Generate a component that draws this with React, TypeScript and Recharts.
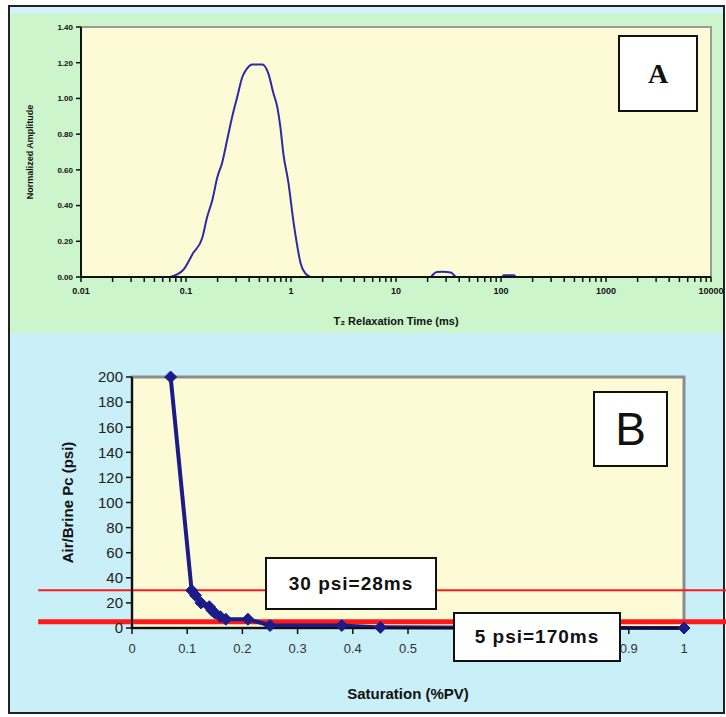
import React from "react";
import {
  LineChart,
  Line,
  XAxis,
  YAxis,
  ReferenceArea,
  ReferenceLine,
} from "recharts";

// Panel A: T2 distribution
const t2Ms = [
  0.0706, 0.094, 0.117, 0.143, 0.159, 0.178, 0.199, 0.221, 0.247, 0.276, 0.308, 0.344, 0.384, 0.428,
  0.533, 0.608, 0.679, 0.741, 0.792, 0.846, 0.944, 1.05, 1.15, 1.23, 1.37, 1.53,
  5,
  21.5, 24.5, 27.9, 33.2, 37,
  60,
  103, 106, 133, 138,
];
const amplitude: (number | null)[] = [
  0, 0.039, 0.134, 0.22, 0.336, 0.43, 0.56, 0.64, 0.77, 0.9, 1.01, 1.12, 1.17, 1.19,
  1.19, 1.14, 1.03, 0.95, 0.84, 0.69, 0.53, 0.32, 0.17, 0.08, 0.02, 0,
  null,
  0, 0.028, 0.03, 0.025, 0,
  null,
  0, 0.01, 0.01, 0,
];
const t2MajorTicks = [0.01, 0.1, 1, 10, 100, 1000, 10000];
const ampTicks = [0, 0.2, 0.4, 0.6, 0.8, 1.0, 1.2, 1.4];

// Panel B: capillary pressure curve
const saturation = [0.07, 0.108, 0.115, 0.125, 0.14, 0.145, 0.15, 0.16, 0.17, 0.21, 0.25, 0.38, 0.45, 1.0];
const pcPsi = [200, 30, 26, 20, 17, 14, 12, 9, 7, 7, 2, 2, 0.5, 0];
const satTicks = [0, 0.1, 0.2, 0.3, 0.4, 0.5, 0.6, 0.7, 0.8, 0.9, 1];
const pcTicks = [0, 20, 40, 60, 80, 100, 120, 140, 160, 180, 200];
const cutoffs = [
  { psi: 30, label: "30 psi=28ms", width: 2 },
  { psi: 5, label: "5 psi=170ms", width: 5 },
];

const t2Data = t2Ms.map((t, i) => ({ t, amp: amplitude[i] }));
const pcData = saturation.map((s, i) => ({ s, pc: pcPsi[i] }));

const t2AllTicks = t2MajorTicks.flatMap((m, i) =>
  i === t2MajorTicks.length - 1 ? [m] : [1, 2, 3, 4, 5, 6, 7, 8, 9].map((k) => m * k)
);

const font = "'Liberation Sans', Arial, sans-serif";

const Diamond = (props: any) => {
  const { cx, cy, index } = props;
  if (cx == null || cy == null) return <g key={index} />;
  const r = 6;
  return (
    <path
      key={index}
      d={`M${cx},${cy - r} L${cx + r},${cy} L${cx},${cy + r} L${cx - r},${cy} Z`}
      fill="#1b1b8a"
      stroke="#1b1b8a"
    />
  );
};

const boxStyle: React.CSSProperties = {
  position: "absolute",
  border: "2px solid #111",
  background: "#fff",
  boxSizing: "border-box",
  display: "flex",
  alignItems: "center",
  justifyContent: "center",
  color: "#111",
};

export default function App() {
  return (
    <div style={{ position: "absolute", left: 0, top: 0, width: 726, height: 717, background: "#fff", fontFamily: font }}>
      <div style={{ position: "absolute", left: 8, top: 5, width: 717, height: 709, border: "2px solid #222", boxSizing: "border-box", background: "#cff3f6" }} />
      <div style={{ position: "absolute", left: 10, top: 14, width: 713, height: 319, background: "#ccf5cc" }} />
      <div style={{ position: "absolute", left: 10, top: 333, width: 713, height: 379, background: "#c9eff8" }} />

      <div style={{ position: "absolute", left: 0, top: 0 }}>
        <LineChart width={726} height={333} data={t2Data} margin={{ top: 27, right: 15, left: 21, bottom: 0 }}>
          <ReferenceArea x1={0.01} x2={10000} y1={0} y2={1.4} fill="#fdfbd6" fillOpacity={1} stroke="#9a9a9a" strokeWidth={2} ifOverflow="visible" />
          <XAxis
            dataKey="t"
            type="number"
            scale="log"
            domain={[0.01, 10000]}
            ticks={t2AllTicks}
            allowDataOverflow
            interval={0}
            tickFormatter={(v: number) => (t2MajorTicks.includes(v) ? String(v) : "")}
            tickSize={5}
            tickMargin={6}
            height={56}
            axisLine={{ stroke: "#111", strokeWidth: 2 }}
            tickLine={{ stroke: "#111", strokeWidth: 1.5 }}
            tick={{ fill: "#111", fontSize: 9, fontWeight: "bold", fontFamily: font }}
            label={{ value: "T₂ Relaxation Time (ms)", position: "insideBottom", offset: 8, fill: "#111", fontSize: 11, fontWeight: "bold", fontFamily: font }}
          />
          <YAxis
            type="number"
            domain={[0, 1.4]}
            ticks={ampTicks}
            interval={0}
            tickFormatter={(v: number) => v.toFixed(2)}
            tickSize={5}
            tickMargin={3}
            width={60}
            axisLine={{ stroke: "#111", strokeWidth: 2 }}
            tickLine={{ stroke: "#111", strokeWidth: 1.5 }}
            tick={{ fill: "#111", fontSize: 8, fontWeight: "bold", fontFamily: font }}
            label={{ value: "Normalized Amplitude", angle: -90, position: "insideLeft", offset: 9, style: { textAnchor: "middle" }, fill: "#111", fontSize: 9, fontWeight: "bold", fontFamily: font }}
          />
          <Line dataKey="amp" type="monotone" stroke="#2b2ba3" strokeWidth={2} dot={false} connectNulls={false} isAnimationActive={false} />
        </LineChart>
      </div>

      <div style={{ position: "absolute", left: 0, top: 333 }}>
        <LineChart width={726} height={384} data={pcData} margin={{ top: 44, right: 42, left: 32, bottom: 0 }}>
          <ReferenceArea x1={0} x2={1} y1={0} y2={200} fill="#fdfbd6" fillOpacity={1} stroke="#8c8c8c" strokeWidth={3} ifOverflow="visible" />
          {cutoffs.map((c) => (
            <ReferenceLine
              key={c.psi}
              segment={[{ x: -0.17, y: c.psi }, { x: 1.08, y: c.psi }]}
              stroke="#ff1a1a"
              strokeWidth={c.width}
              ifOverflow="visible"
            />
          ))}
          <XAxis
            dataKey="s"
            type="number"
            domain={[0, 1]}
            ticks={satTicks}
            interval={0}
            tickFormatter={(v: number) => String(v)}
            tickSize={6}
            tickMargin={10}
            height={89}
            axisLine={{ stroke: "#111", strokeWidth: 2 }}
            tickLine={{ stroke: "#111", strokeWidth: 1.5 }}
            tick={{ fill: "#333", fontSize: 13, fontFamily: font }}
            label={{ value: "Saturation (%PV)", position: "insideBottom", offset: 18, fill: "#111", fontSize: 15, fontWeight: "bold", fontFamily: font }}
          />
          <YAxis
            type="number"
            domain={[0, 200]}
            ticks={pcTicks}
            interval={0}
            tickSize={6}
            tickMargin={3}
            width={100}
            axisLine={{ stroke: "#111", strokeWidth: 2 }}
            tickLine={{ stroke: "#111", strokeWidth: 1.5 }}
            tick={{ fill: "#222", fontSize: 15, fontFamily: font }}
            label={{ value: "Air/Brine Pc (psi)", angle: -90, position: "insideLeft", offset: 36, style: { textAnchor: "middle" }, fill: "#111", fontSize: 15, fontWeight: "bold", fontFamily: font }}
          />
          <Line dataKey="pc" type="linear" stroke="#1b1b8a" strokeWidth={4} dot={<Diamond />} isAnimationActive={false} />
        </LineChart>
      </div>

      <div style={{ ...boxStyle, left: 618, top: 35, width: 80, height: 77, fontFamily: "'Liberation Serif', 'DejaVu Serif', serif", fontSize: 28, fontWeight: "bold" }}>A</div>
      <div style={{ ...boxStyle, left: 593, top: 391, width: 75, height: 76, fontSize: 46 }}>B</div>
      <div style={{ ...boxStyle, left: 265, top: 557, width: 172, height: 53, fontSize: 19, fontWeight: "bold", letterSpacing: 1 }}>{cutoffs[0].label}</div>
      <div style={{ ...boxStyle, left: 453, top: 612, width: 168, height: 50, fontSize: 19, fontWeight: "bold", letterSpacing: 1 }}>{cutoffs[1].label}</div>
    </div>
  );
}
